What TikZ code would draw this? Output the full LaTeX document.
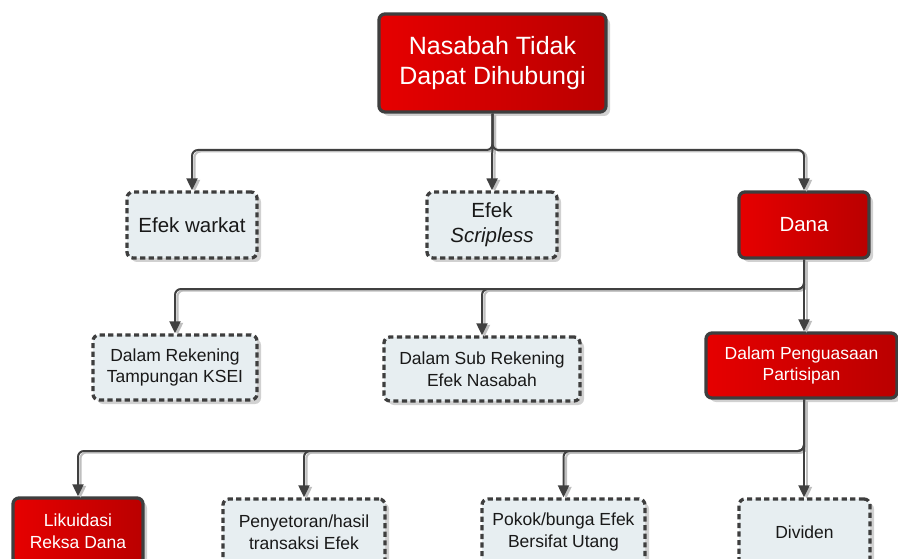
\documentclass[tikz,border=0pt]{standalone}
\usepackage{fontspec}
\setmainfont{Liberation Sans}
\usetikzlibrary{shadows,arrows.meta}

\definecolor{redA}{HTML}{E60000}
\definecolor{redB}{HTML}{BA0000}
\definecolor{edge}{HTML}{3E3E3E}
\definecolor{paleBox}{HTML}{E7EEF1}
\definecolor{lineCol}{HTML}{404040}

\tikzset{
  box/.style={rounded corners=6pt, line width=3.3pt, draw=edge, align=center,
    inner sep=2pt,
    drop shadow={shadow xshift=4pt, shadow yshift=-4pt, opacity=0.3, fill=black!60}},
  redbox/.style={box, left color=redA, right color=redB, text=white},
  palebox/.style={box, fill=paleBox, text=black!90, dash pattern=on 5.2pt off 3.4pt},
  topfont/.style={font=\fontsize{25}{30}\selectfont},
  midfont/.style={font=\fontsize{20.5}{25}\selectfont},
  lowfont/.style={font=\fontsize{17.5}{21.5}\selectfont},
  conn/.style={draw=lineCol, line width=2pt, rounded corners=6pt,
    -{Triangle[length=12pt,width=11pt]},
    preaction={draw=black!25, line width=2pt,
      transform canvas={shift={(2.5pt,-1.5pt)}}}}
}

\begin{document}
\begin{tikzpicture}[x=1pt, y=-1pt]
  \useasboundingbox (0,0) rectangle (898,559);
  \clip (0,0) rectangle (898,559);

  % root
  \node[redbox, topfont, minimum width=227pt, minimum height=98pt] (root) at (492.5,63)
    {Nasabah Tidak\\Dapat Dihubungi};

  % first level
  \node[palebox, midfont, minimum width=130pt, minimum height=66pt] (warkat) at (192,225) {Efek warkat};
  \node[palebox, midfont, minimum width=130pt, minimum height=66pt] (scrip) at (492,225) {Efek\\\textit{Scripless}};
  \node[redbox, midfont, minimum width=130pt, minimum height=66pt] (dana) at (804,225) {Dana};

  % second level
  \node[palebox, lowfont, minimum width=164pt, minimum height=65pt] (rek) at (175,367.5)
    {Dalam Rekening\\Tampungan KSEI};
  \node[palebox, lowfont, minimum width=196pt, minimum height=64pt] (sub) at (482,369)
    {Dalam Sub Rekening\\Efek Nasabah};
  \node[redbox, lowfont, minimum width=191pt, minimum height=65pt] (peng) at (801.5,365.5)
    {Dalam Penguasaan\\Partisipan};

  % third level
  \node[redbox, lowfont, minimum width=130pt, minimum height=66pt] (lik) at (78,531)
    {Likuidasi\\Reksa Dana};
  \node[palebox, lowfont, minimum width=162pt, minimum height=66pt] (setor) at (304,532)
    {Penyetoran/hasil\\transaksi Efek};
  \node[palebox, lowfont, minimum width=163pt, minimum height=66pt] (pokok) at (563.5,532)
    {Pokok/bunga Efek\\Bersifat Utang};
  \node[palebox, lowfont, minimum width=131pt, minimum height=66pt] (div) at (804.5,532)
    {Dividen};

  % connectors from the root
  \coordinate (j1) at (492.5,150);
  \draw[conn] (root.south) |- (j1) -| (warkat.north);
  \draw[conn] (root.south) -- (scrip.north);
  \draw[conn] (root.south) |- (j1) -| (dana.north);

  % connectors from Dana
  \coordinate (j2) at (804,289);
  \draw[conn] (dana.south) |- (j2) -| (rek.north);
  \draw[conn] (dana.south) |- (j2) -| (sub.north);
  \draw[conn] (dana.south) -- (dana.south |- peng.north);

  % connectors from Dalam Penguasaan
  \coordinate (j3) at (804,451);
  \draw[conn] (j3 |- peng.south) |- (j3) -| (lik.north);
  \draw[conn] (j3 |- peng.south) |- (j3) -| (setor.north);
  \draw[conn] (j3 |- peng.south) |- (j3) -| (pokok.north);
  \draw[conn] (j3 |- peng.south) -- (j3 |- div.north);
\end{tikzpicture}
\end{document}
